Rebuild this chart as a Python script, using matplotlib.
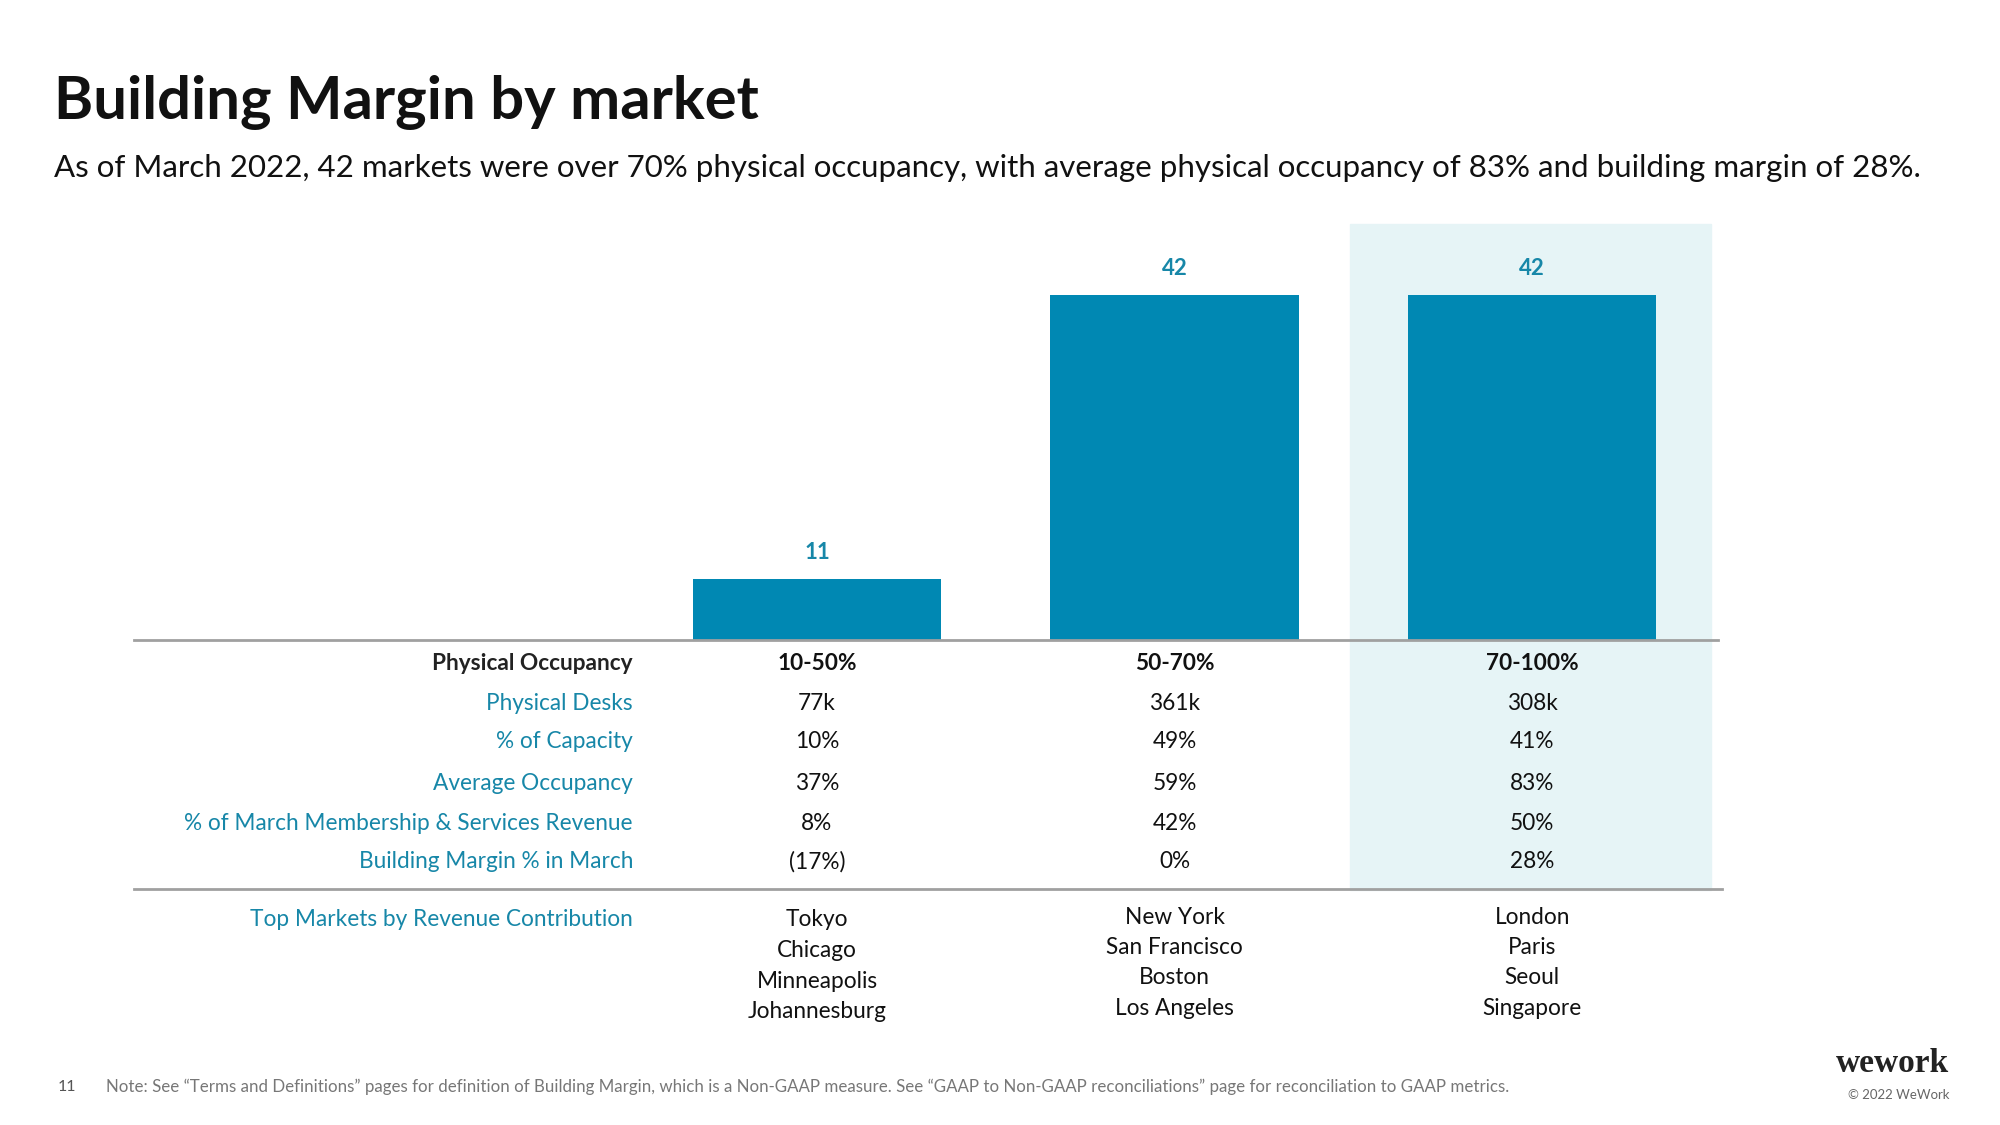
import matplotlib
matplotlib.use("Agg")
import matplotlib.pyplot as plt
from matplotlib.patches import Rectangle
from matplotlib.transforms import blended_transform_factory

# data
occupancy_bands = ["10-50%", "50-70%", "70-100%"]
market_counts = [11, 42, 42]
physical_desks = ["77k", "361k", "308k"]
pct_capacity = ["10%", "49%", "41%"]
avg_occupancy = ["37%", "59%", "83%"]
pct_revenue = ["8%", "42%", "50%"]
building_margin = ["(17%)", "0%", "28%"]
top_markets = [
    ["Tokyo", "Chicago", "Minneapolis", "Johannesburg"],
    ["New York", "San Francisco", "Boston", "Los Angeles"],
    ["London", "Paris", "Seoul", "Singapore"],
]
row_labels = ["Physical Desks", "% of Capacity", "Average Occupancy",
              "% of March Membership & Services Revenue", "Building Margin % in March"]

BAR = "#0088b3"
TEAL = "#1787a8"
SHADE = "#e6f4f6"
GREY = "#a0a0a0"
FONT = "Lato"

W, H = 2000, 1125
fig = plt.figure(figsize=(20, 11.25), dpi=100)


def fy(px):
    return 1 - px / H


def fx(px):
    return px / W


# bar axes: x 134..1718 px, y 224..640 px
ax = fig.add_axes([fx(134), fy(640), fx(1718) - fx(134), (640 - 224) / H])
ax.set_xlim(-1.91, 2.52)
ax.set_ylim(4.33, 49.75)
ax.axis("off")

x = list(range(len(market_counts)))
bars = ax.bar(x, market_counts, width=0.695, color=BAR, zorder=3)
for b, v in zip(bars, market_counts):
    ax.annotate(str(v), (b.get_x() + b.get_width() / 2, v), xytext=(0, 16),
                textcoords="offset pixels", ha="center", va="bottom",
                color=TEAL, fontsize=16, fontweight="bold", family=FONT)

tr = blended_transform_factory(ax.transData, fig.transFigure)

# highlighted last column
fig.add_artist(Rectangle((2 - 0.51, fy(890)), 1.01, (890 - 224) / H,
                         transform=tr, color=SHADE, zorder=0))

# rules
fig.add_artist(plt.Line2D([fx(134), fx(1718)], [fy(640), fy(640)],
                          color=GREY, lw=2, zorder=4))
fig.add_artist(plt.Line2D([fx(134), fx(1722)], [fy(889), fy(889)],
                          color=GREY, lw=2, zorder=4))

# table
label_x = fx(633)
FS = 16.3
fig.text(label_x, fy(663), "Physical Occupancy", ha="right", va="center",
         fontsize=FS, fontweight="bold", color="#222222", family=FONT)
for i, band in enumerate(occupancy_bands):
    ax.text(i, fy(663), band, transform=tr, ha="center", va="center",
            fontsize=FS, fontweight="bold", color="#111111", family=FONT)

row_y = [703, 742, 783, 823, 862]
rows = [physical_desks, pct_capacity, avg_occupancy, pct_revenue, building_margin]
for lab, vals, yp in zip(row_labels, rows, row_y):
    fig.text(label_x, fy(yp), lab, ha="right", va="center",
             fontsize=FS, color=TEAL, family=FONT)
    for i, v in enumerate(vals):
        ax.text(i, fy(yp), v, transform=tr, ha="center", va="center",
                fontsize=FS, color="#111111", family=FONT)

fig.text(label_x, fy(919), "Top Markets by Revenue Contribution", ha="right",
         va="center", fontsize=FS, color=TEAL, family=FONT)
for i, cities in enumerate(top_markets):
    y0 = 920 if i == 0 else 917
    for k, c in enumerate(cities):
        ax.text(i, fy(y0 + k * 30.5), c, transform=tr, ha="center", va="center",
                fontsize=FS, color="#111111", family=FONT)

# titles
fig.text(fx(54), fy(102), "Building Margin by market", ha="left", va="center",
         fontsize=43, fontweight="bold", color="#111111", family=FONT)
fig.text(fx(54), fy(168),
         "As of March 2022, 42 markets were over 70% physical occupancy, with average "
         "physical occupancy of 83% and building margin of 28%.",
         ha="left", va="center", fontsize=22.5, color="#111111", family=FONT)

# footer
fig.text(fx(58), fy(1087), "11", ha="left", va="center", fontsize=11.5,
         color="#555555", family=FONT)
fig.text(fx(106), fy(1087),
         "Note: See \u201cTerms and Definitions\u201d pages for definition of Building Margin, "
         "which is a Non-GAAP measure. See \u201cGAAP to Non-GAAP reconciliations\u201d page "
         "for reconciliation to GAAP metrics.",
         ha="left", va="center", fontsize=12.2, color="#777777", family=FONT)
fig.text(fx(1949), fy(1063), "wework", ha="right", va="center", fontsize=24,
         fontweight="bold", color="#222222", family="Liberation Serif")
fig.text(fx(1949), fy(1095), "\u00a9 2022 WeWork", ha="right", va="center",
         fontsize=9.5, color="#666666", family=FONT)

fig.savefig("out.png", dpi=100, facecolor="white")
